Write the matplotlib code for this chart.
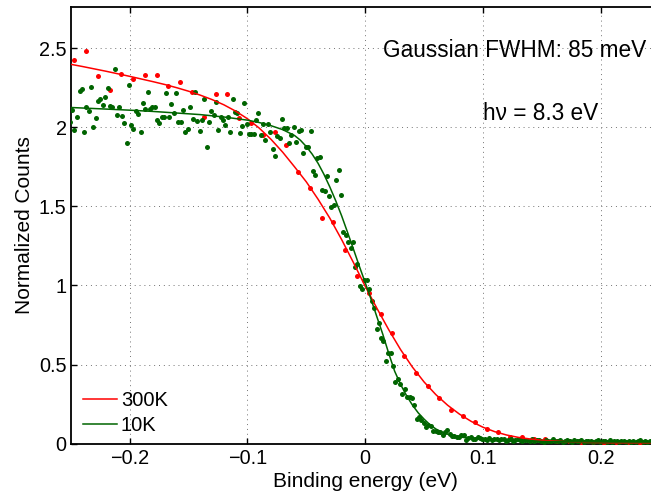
import matplotlib
matplotlib.use('Agg')
import matplotlib.pyplot as plt

plt.rcParams['font.family'] = ['Liberation Sans', 'DejaVu Sans']

# Datos 300K (puntos rojos)
x_300 = [-0.247, -0.237, -0.227, -0.217, -0.207, -0.197, -0.187, -0.177, -0.167, -0.157,
         -0.147, -0.137, -0.127, -0.117, -0.107, -0.097, -0.087, -0.077, -0.067, -0.057,
         -0.047, -0.037, -0.027, -0.017, -0.007, 0.003, 0.013, 0.023, 0.033, 0.043,
         0.053, 0.063, 0.073, 0.083, 0.093, 0.103, 0.113, 0.123, 0.133, 0.143,
         0.153, 0.163, 0.173, 0.183, 0.193, 0.203, 0.213, 0.223, 0.233]
y_300 = [2.424, 2.480, 2.324, 2.234, 2.335, 2.303, 2.329, 2.329, 2.261, 2.286,
         2.223, 2.065, 2.209, 2.209, 2.057, 2.029, 1.949, 1.968, 1.886, 1.716,
         1.618, 1.427, 1.403, 1.222, 1.058, 0.953, 0.820, 0.698, 0.556, 0.445,
         0.362, 0.289, 0.216, 0.178, 0.137, 0.093, 0.076, 0.042, 0.044, 0.027,
         0.028, 0.019, 0.019, 0.013, 0.013, 0.006, 0.013, 0.013, 0.006]

# Ajuste 300K
fx_300 = [-0.25, -0.24, -0.23, -0.22, -0.21, -0.20, -0.19, -0.18, -0.17, -0.16,
          -0.15, -0.14, -0.13, -0.12, -0.11, -0.10, -0.09, -0.08, -0.07, -0.06,
          -0.05, -0.04, -0.03, -0.02, -0.01, 0.00, 0.01, 0.02, 0.03, 0.04,
          0.05, 0.06, 0.07, 0.08, 0.09, 0.10, 0.11, 0.12, 0.13, 0.14,
          0.15, 0.16, 0.17, 0.18, 0.19, 0.20, 0.21, 0.22, 0.23, 0.24, 0.25]
fy_300 = [2.398, 2.384, 2.369, 2.354, 2.338, 2.322, 2.305, 2.288, 2.270, 2.250,
          2.228, 2.203, 2.175, 2.142, 2.102, 2.054, 1.995, 1.924, 1.842, 1.750,
          1.655, 1.545, 1.425, 1.290, 1.145, 0.995, 0.855, 0.720, 0.595, 0.485,
          0.390, 0.310, 0.243, 0.187, 0.141, 0.104, 0.076, 0.055, 0.040, 0.030,
          0.022, 0.017, 0.013, 0.010, 0.008, 0.007, 0.006, 0.006, 0.006, 0.006, 0.006]

# Datos 10K (puntos verdes)
x_10 = [-0.2508, -0.2489, -0.2469, -0.2446, -0.2423, -0.2406, -0.2386, -0.2367, -0.2347, -0.2327,
        -0.2307, -0.2287, -0.2267, -0.2248, -0.2228, -0.2205, -0.2185, -0.2165, -0.2146, -0.2126,
        -0.2106, -0.2086, -0.2066, -0.2046, -0.2026, -0.2007, -0.1987, -0.1967, -0.1947, -0.1927,
        -0.1907, -0.1888, -0.1868, -0.1848, -0.1828, -0.1808, -0.1788, -0.1769, -0.1749, -0.1729,
        -0.1709, -0.1689, -0.1666, -0.1647, -0.1627, -0.1607, -0.1587, -0.1567, -0.1547, -0.1528,
        -0.1508, -0.1488, -0.1465, -0.1445, -0.1426, -0.1406, -0.1386, -0.1366, -0.1346, -0.1326,
        -0.1306, -0.1287, -0.1267, -0.1247, -0.1227, -0.1207, -0.1187, -0.1168, -0.1145, -0.1125,
        -0.1105, -0.1085, -0.1066, -0.1046, -0.1026, -0.1006, -0.0986, -0.0966, -0.0947, -0.0927,
        -0.0907, -0.0887, -0.0867, -0.0847, -0.0825, -0.0805, -0.0786, -0.0766, -0.0746, -0.0726,
        -0.0706, -0.0689, -0.0667, -0.0647, -0.0627, -0.0604, -0.0584, -0.0564, -0.0545, -0.0525,
        -0.0502, -0.0482, -0.0462, -0.0445, -0.0426, -0.0405, -0.0386, -0.0366, -0.0345, -0.0325,
        -0.0304, -0.0287, -0.0265, -0.0247, -0.0224, -0.0205, -0.0186, -0.0165, -0.0145, -0.0124,
        -0.0104, -0.0084, -0.0066, -0.0045, -0.0026, -0.0012, 0.0014, 0.0034, 0.0054, 0.0073,
        0.0099, 0.0116, 0.0133, 0.0153, 0.0175, 0.0195, 0.0215, 0.0235, 0.0255, 0.0275,
        0.0294, 0.0314, 0.0334, 0.0354, 0.0377, 0.0397, 0.0417, 0.0436, 0.0456, 0.0476,
        0.0496, 0.0516, 0.0536, 0.0556, 0.0578, 0.0598, 0.0618, 0.0638, 0.0658, 0.0677,
        0.0697, 0.0717, 0.0737, 0.0757, 0.0777, 0.0796, 0.0816, 0.0836, 0.0856, 0.0876,
        0.0896, 0.0915, 0.0935, 0.0955, 0.0975, 0.0995, 0.1015, 0.1035, 0.1055, 0.1075,
        0.1095, 0.1115, 0.1135, 0.1155, 0.1175, 0.1195, 0.1215, 0.1235, 0.1255, 0.1275,
        0.1295, 0.1315, 0.1335, 0.1355, 0.1375, 0.1395, 0.1415, 0.1435, 0.1455, 0.1475,
        0.1495, 0.1515, 0.1535, 0.1555, 0.1575, 0.1595, 0.1615, 0.1635, 0.1655, 0.1675,
        0.1695, 0.1715, 0.1735, 0.1755, 0.1775, 0.1795, 0.1815, 0.1835, 0.1855, 0.1875,
        0.1895, 0.1915, 0.1935, 0.1955, 0.1975, 0.1995, 0.2015, 0.2035, 0.2055, 0.2075,
        0.2095, 0.2115, 0.2135, 0.2155, 0.2175, 0.2195, 0.2215, 0.2235, 0.2255, 0.2275,
        0.2295, 0.2315, 0.2335, 0.2355, 0.2375, 0.2395, 0.2415, 0.2435, 0.2455, 0.2475, 0.2495]
y_10 = [2.036, 2.110, 1.983, 2.067, 2.232, 2.244, 1.968, 2.131, 2.103, 2.253,
        2.000, 2.061, 2.166, 2.177, 2.141, 2.190, 2.246, 2.137, 2.131, 2.371,
        2.078, 2.126, 2.074, 2.025, 1.903, 2.265, 2.015, 1.989, 2.103, 2.082,
        1.973, 2.152, 2.116, 2.221, 2.114, 2.131, 2.128, 2.046, 2.029, 2.067,
        2.067, 2.215, 2.067, 2.150, 2.088, 2.217, 2.032, 2.036, 2.112, 1.968,
        1.989, 2.128, 2.053, 2.225, 2.040, 1.975, 2.046, 2.179, 1.878, 2.036,
        2.105, 2.078, 2.158, 1.981, 2.063, 2.046, 2.015, 2.067, 1.973, 2.177,
        2.099, 2.093, 1.964, 2.010, 2.152, 2.019, 1.958, 1.958, 1.958, 2.048,
        2.091, 1.952, 2.019, 1.922, 2.019, 1.972, 1.863, 1.821, 1.945, 1.930,
        2.053, 1.996, 1.996, 1.899, 1.949, 2.000, 1.909, 1.977, 1.983, 1.840,
        1.876, 1.876, 1.977, 1.722, 1.699, 1.808, 1.812, 1.604, 1.598, 1.693,
        1.566, 1.494, 1.510, 1.666, 1.730, 1.573, 1.336, 1.322, 1.274, 1.235,
        1.274, 1.120, 1.133, 0.998, 0.976, 1.037, 1.035, 0.980, 0.902, 0.858,
        0.727, 0.761, 0.666, 0.649, 0.523, 0.575, 0.575, 0.491, 0.390, 0.411,
        0.375, 0.312, 0.344, 0.293, 0.297, 0.287, 0.243, 0.154, 0.171, 0.150,
        0.133, 0.108, 0.118, 0.114, 0.080, 0.080, 0.074, 0.072, 0.058, 0.076,
        0.084, 0.062, 0.050, 0.048, 0.042, 0.043, 0.052, 0.055, 0.023, 0.036,
        0.045, 0.032, 0.030, 0.040, 0.034, 0.032, 0.030, 0.026, 0.033, 0.024,
        0.028, 0.031, 0.022, 0.027, 0.030, 0.020, 0.025, 0.029, 0.018, 0.024,
        0.032, 0.021, 0.017, 0.026, 0.023, 0.019, 0.028, 0.015, 0.022, 0.025,
        0.018, 0.013, 0.024, 0.020, 0.016, 0.027, 0.014, 0.019, 0.022, 0.011,
        0.018, 0.023, 0.016, 0.012, 0.021, 0.017, 0.014, 0.022, 0.010, 0.018,
        0.015, 0.020, 0.012, 0.017, 0.023, 0.011, 0.016, 0.019, 0.013, 0.021,
        0.010, 0.015, 0.018, 0.012, 0.020, 0.014, 0.009, 0.017, 0.013, 0.019,
        0.011, 0.016, 0.022, 0.012, 0.015, 0.010, 0.018, 0.013, 0.016, 0.011, 0.014]

# Ajuste 10K
fx_10 = [-0.25, -0.22, -0.20, -0.18, -0.16, -0.14, -0.12, -0.10, -0.09, -0.08,
         -0.07, -0.06, -0.055, -0.05, -0.045, -0.04, -0.035, -0.03, -0.025, -0.02,
         -0.015, -0.01, -0.005, 0.0, 0.005, 0.01, 0.015, 0.02, 0.025, 0.03,
         0.035, 0.04, 0.045, 0.05, 0.055, 0.06, 0.065, 0.07, 0.08, 0.09,
         0.10, 0.12, 0.14, 0.17, 0.20, 0.25]
fy_10 = [2.125, 2.115, 2.108, 2.100, 2.090, 2.080, 2.065, 2.045, 2.030, 2.010,
         1.985, 1.948, 1.918, 1.878, 1.830, 1.772, 1.702, 1.622, 1.535, 1.440,
         1.336, 1.230, 1.122, 1.018, 0.912, 0.800, 0.690, 0.570, 0.458, 0.375,
         0.305, 0.245, 0.195, 0.155, 0.120, 0.093, 0.074, 0.060, 0.043, 0.033,
         0.026, 0.019, 0.015, 0.012, 0.011, 0.010]

rojo = '#ff0000'
verde = '#006400'

fig = plt.figure(figsize=(6.51, 4.94), dpi=100)
ax = fig.add_axes([0.1086, 0.1018, 0.9048, 0.884])

ax.plot(x_300, y_300, 'o', color=rojo, ms=3.6, mew=0, zorder=3)
ax.plot(x_10, y_10, 'o', color=verde, ms=3.6, mew=0, zorder=3)
l1, = ax.plot(fx_300, fy_300, '-', color=rojo, lw=1.1, zorder=4)
l2, = ax.plot(fx_10, fy_10, '-', color=verde, lw=1.1, zorder=4)

ax.set_xlim(-0.25, 0.25)
ax.set_ylim(0, 2.76)
ax.set_xticks([-0.2, -0.1, 0, 0.1, 0.2])
ax.set_xticklabels(['\u22120.2', '\u22120.1', '0', '0.1', '0.2'])
ax.set_yticks([0, 0.5, 1, 1.5, 2, 2.5])
ax.set_yticklabels(['0', '0.5', '1', '1.5', '2', '2.5'])

ax.grid(True, color='0.45', linestyle=(0, (1, 4)), linewidth=0.7)
ax.tick_params(direction='in', length=4.5, width=1, labelsize=14.3,
               top=True, right=True, pad=4)
ax.tick_params(axis='y', pad=3)
for s in ax.spines.values():
    s.set_linewidth(1.3)

ax.set_xlabel('Binding energy (eV)', fontsize=15)
ax.set_ylabel('Normalized Counts', fontsize=15)
ax.xaxis.set_label_coords(0.5, -0.064)
ax.yaxis.set_label_coords(-0.062, 0.5)

ax.text(0.5297, 0.8848, 'Gaussian FWHM: 85 meV', fontsize=16.3,
        transform=ax.transAxes, va='baseline', ha='left')
ax.text(0.6995, 0.7412, 'h\u03bd = 8.3 eV', fontsize=16.3,
        transform=ax.transAxes, va='baseline', ha='left')

ax.legend([l1, l2], ['300K', '10K'], loc='lower left', bbox_to_anchor=(0.021, 0.02),
          frameon=False, fontsize=14.5, handlelength=1.7, handletextpad=0.18,
          labelspacing=0.3, borderpad=0, borderaxespad=0)

fig.savefig('out.png', dpi=100)
